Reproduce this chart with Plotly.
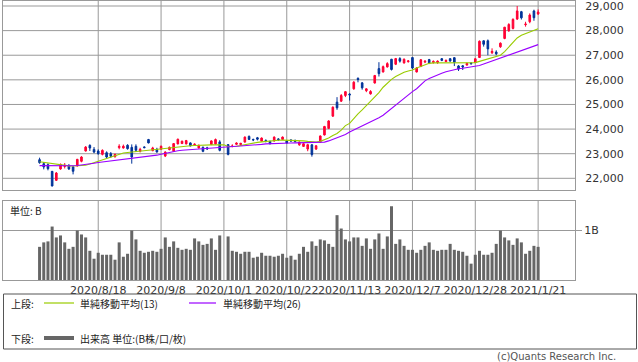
import plotly.graph_objects as go

# ---------------- data ----------------
dates = ["2020/7/28","2020/7/29","2020/7/30","2020/7/31","2020/8/3","2020/8/4","2020/8/5","2020/8/6","2020/8/7","2020/8/11",
         "2020/8/12","2020/8/13","2020/8/14","2020/8/17","2020/8/18","2020/8/19","2020/8/20","2020/8/21","2020/8/24","2020/8/25",
         "2020/8/26","2020/8/27","2020/8/28","2020/8/31","2020/9/1","2020/9/2","2020/9/3","2020/9/4","2020/9/7","2020/9/8",
         "2020/9/9","2020/9/10","2020/9/11","2020/9/14","2020/9/15","2020/9/16","2020/9/17","2020/9/18","2020/9/23","2020/9/24",
         "2020/9/25","2020/9/28","2020/9/29","2020/9/30","2020/10/1","2020/10/2","2020/10/5","2020/10/6","2020/10/7","2020/10/8",
         "2020/10/9","2020/10/12","2020/10/13","2020/10/14","2020/10/15","2020/10/16","2020/10/19","2020/10/20","2020/10/21","2020/10/22",
         "2020/10/23","2020/10/26","2020/10/27","2020/10/28","2020/10/29","2020/10/30","2020/11/2","2020/11/4","2020/11/5","2020/11/6",
         "2020/11/9","2020/11/10","2020/11/11","2020/11/12","2020/11/13","2020/11/16","2020/11/17","2020/11/18","2020/11/19","2020/11/20",
         "2020/11/24","2020/11/25","2020/11/26","2020/11/27","2020/11/30","2020/12/1","2020/12/2","2020/12/3","2020/12/4","2020/12/7",
         "2020/12/8","2020/12/9","2020/12/10","2020/12/11","2020/12/14","2020/12/15","2020/12/16","2020/12/17","2020/12/18","2020/12/21",
         "2020/12/22","2020/12/23","2020/12/24","2020/12/25","2020/12/28","2020/12/29","2020/12/30","2021/1/4","2021/1/5","2021/1/6",
         "2021/1/7","2021/1/8","2021/1/12","2021/1/13","2021/1/14","2021/1/15","2021/1/18","2021/1/19","2021/1/20","2021/1/21"]

opens = [22757,22594,22554,22283,21918,22378,22480,22514,22460,22500,
         22690,23108,23338,23175,23108,22973,23040,23000,22878,23247,
         23233,23342,23257,23300,23096,23274,23575,23123,23178,23178,
         22904,23164,23096,23397,23411,23397,23438,23360,23233,23260,
         23240,23370,23397,23480,None,23370,23290,23380,23370,23472,
         23702,23580,23648,23513,23540,23500,23513,23600,23580,23513,
         23560,23540,23360,23295,23189,23362,23189,23468,23760,24027,
         24525,25094,25134,25364,25420,25635,26060,25878,25560,25430,
         25871,26456,26320,26524,26837,26633,26864,26687,26740,26905,
         26320,26540,26720,26823,26700,26700,26860,26740,26860,26900,
         26565,26570,26600,26680,26702,26906,27586,27586,27100,27130,
         27341,27681,27994,28089,28470,28769,28240,28361,28796,28674]

highs = [22838,22662,22608,22297,22256,22600,22620,22580,22500,22790,
         22900,23310,23380,23270,23175,23175,23095,23068,23000,23384,
         23370,23384,23378,23380,23240,23300,23600,23280,23240,23330,
         23096,23290,23430,23610,23530,23560,23460,23420,23370,23290,
         23280,23540,23616,23548,None,23384,23380,23460,23440,23700,
         23740,23610,23680,23660,23580,23530,23700,23630,23700,23540,
         23580,23570,23495,23430,23401,23380,23340,23740,24130,24360,
         24920,25297,25423,25540,25460,25946,26100,25900,25660,25580,
         26200,26717,26582,26717,26850,26890,26920,26870,26800,26910,
         26520,26840,26800,26850,26790,26790,26880,26830,26880,26920,
         26600,26600,26700,26720,26880,27600,27600,27640,27280,27200,
         27520,28150,28300,28500,29000,28800,28360,28700,28850,28860]

lows = [22594,22364,22324,21674,21891,22350,22400,22340,22160,22480,
        22650,23090,23110,23020,22960,22932,22824,22838,22838,23178,
        23205,23164,22595,23070,23050,23220,23420,23100,23050,23150,
        22863,23140,23080,23380,23400,23380,23300,23330,23210,23060,
        23150,23350,23370,23096,None,22932,23260,23360,23320,23450,
        23560,23510,23540,23500,23460,23380,23500,23520,23560,23420,
        23490,23460,23320,23280,23100,22880,23150,23440,23740,24000,
        24500,24782,25100,25300,25160,25600,25900,25600,25500,25400,
        25850,26135,26300,26500,26380,26600,26700,26660,26700,26440,
        26300,26520,26680,26640,26660,26650,26760,26720,26740,26560,
        26360,26400,26580,26620,26680,26900,27350,27000,27050,27000,
        27300,27650,27950,28050,28430,28450,28160,28300,28400,28640]

closes = [22635,22459,22391,21688,22215,22567,22530,22380,22285,22770,
          22865,23270,23230,23068,23000,23135,22865,22892,22973,23301,
          23301,23205,22865,23140,23178,23247,23438,23233,23068,23301,
          23068,23260,23411,23589,23507,23534,23315,23384,23342,23096,
          23200,23520,23575,23137,None,22973,23312,23433,23422,23675,
          23580,23560,23590,23635,23500,23405,23675,23567,23675,23432,
          23516,23494,23472,23405,23365,22963,23322,23720,24106,24330,
          24890,24863,25364,25520,25390,25906,26014,25675,25634,25527,
          26176,26252,26537,26660,26420,26864,26760,26837,26769,26480,
          26483,26817,26756,26687,26750,26760,26790,26790,26763,26714,
          26436,26524,26668,26656,26854,27568,27444,27258,27158,27055,
          27490,28139,28250,28456,28800,28519,28265,28633,28524,28756]

# volume in billions of shares
volume_b = [0.67,0.76,0.78,1.08,0.86,0.90,0.76,0.63,0.67,1.00,
            0.92,0.86,0.59,0.43,0.55,0.51,0.51,0.51,0.41,0.76,
            0.47,0.53,1.00,0.82,0.59,0.55,0.57,0.59,0.57,0.63,
            0.86,0.67,0.78,0.65,0.61,0.63,0.61,0.84,0.78,0.71,
            0.73,0.84,0.61,0.90,None,0.88,0.59,0.57,0.53,0.57,
            0.57,0.45,0.47,0.55,0.49,0.49,0.47,0.49,0.53,0.45,
            0.49,0.41,0.53,0.67,0.57,0.78,0.69,0.82,0.80,0.73,
            0.67,1.31,1.04,0.82,0.78,0.86,0.86,0.69,0.84,0.63,
            0.82,0.94,0.63,0.88,1.49,0.73,0.82,0.69,0.61,0.61,
            0.55,0.61,0.69,0.76,0.61,0.59,0.61,0.61,0.73,0.61,
            0.59,0.57,0.49,0.33,0.51,0.59,0.51,0.51,0.55,0.73,
            1.00,0.86,0.80,0.71,0.84,0.76,0.53,0.59,0.69,0.67]

ma13 = [22676,22650,22620,22590,22560,22540,22520,22505,22500,22500,
        22505,22530,22580,22640,22700,22740,22800,22880,22940,22990,
        23030,23050,23070,23090,23105,23110,23130,23150,23160,23180,
        23200,23225,23250,23280,23300,23310,23320,23330,23330,23340,
        23350,23360,23365,23365,23360,23290,23290,23300,23330,23370,
        23400,23420,23460,23480,23500,23520,23540,23545,23550,23550,
        23545,23545,23540,23520,23500,23470,23470,23500,23560,23640,
        23740,23820,23960,24140,24230,24440,24620,24780,24950,25100,
        25280,25480,25700,25870,26020,26135,26230,26310,26360,26400,
        26480,26550,26620,26670,26690,26690,26690,26690,26690,26690,
        26690,26680,26670,26680,26700,26750,26800,26850,26900,26960,
        27000,27150,27330,27540,27700,27810,27880,27960,28020,28080]

ma26 = [22514,22510,22505,22500,22500,22500,22500,22505,22510,22520,
        22535,22555,22580,22610,22640,22660,22680,22700,22720,22740,
        22760,22780,22800,22820,22840,22860,22880,22905,22940,22980,
        23020,23060,23090,23120,23140,23155,23170,23185,23200,23210,
        23220,23235,23250,23265,23280,23290,23300,23305,23310,23320,
        23325,23340,23360,23380,23400,23410,23420,23425,23430,23432,
        23435,23440,23445,23450,23450,23445,23440,23450,23470,23520,
        23580,23640,23700,23780,23880,23960,24050,24150,24230,24300,
        24380,24460,24560,24700,24840,24980,25120,25260,25400,25520,
        25640,25810,25960,26060,26140,26210,26270,26330,26380,26420,
        26450,26470,26490,26510,26540,26580,26640,26700,26780,26840,
        26900,26960,27030,27080,27130,27190,27250,27310,27370,27430]

tick_labels = ["2020/8/18","2020/9/8","2020/10/1","2020/10/22","2020/11/13","2020/12/7","2020/12/28","2021/1/21"]
price_ticks = [22000, 23000, 24000, 25000, 26000, 27000, 28000, 29000]
volume_ticks = [1]
volume_tick_labels = ["1B"]

# ---------------- figure ----------------
W, H = 638, 362
def fx(p): return p / W
def fy(p): return 1 - p / H

idx = list(range(len(dates)))
tickvals = [dates.index(t) for t in tick_labels]

RED = "#ff0033"
BLUE = "#003399"
GREEN = "#99cc00"
PURPLE = "#9900ff"
GRID = "#999999"
TXT = "#333333"
TICKFONT = dict(family="DejaVu Sans", size=11, color=TXT)
JPFONT = dict(family="Noto Sans CJK JP", size=10, color="#222222")

fig = go.Figure()
fig.add_trace(go.Scatter(x=idx, y=ma13, mode="lines", line=dict(color=GREEN, width=1.1),
                         xaxis="x", yaxis="y", showlegend=False, hoverinfo="skip"))
fig.add_trace(go.Scatter(x=idx, y=ma26, mode="lines", line=dict(color=PURPLE, width=1.1),
                         xaxis="x", yaxis="y", showlegend=False, hoverinfo="skip"))
fig.add_trace(go.Candlestick(x=idx, open=opens, high=highs, low=lows, close=closes,
                             increasing=dict(line=dict(color=RED, width=1), fillcolor=RED),
                             decreasing=dict(line=dict(color=BLUE, width=1), fillcolor=BLUE),
                             whiskerwidth=0, xaxis="x", yaxis="y", showlegend=False))
fig.add_trace(go.Bar(x=idx, y=volume_b, marker=dict(color="#666666", line=dict(width=0)),
                     width=0.72, xaxis="x2", yaxis="y2", showlegend=False))

xr = [-8.73, 127.8]
common_x = dict(domain=[fx(3), fx(575)], range=xr, tickmode="array", tickvals=tickvals, showgrid=False,
                showline=True, linecolor=GRID, linewidth=1,
                mirror=True, zeroline=False, ticks="", fixedrange=True)

fig.update_layout(
    width=W, height=H, margin=dict(l=0, r=0, t=0, b=0, pad=0),
    paper_bgcolor="white", plot_bgcolor="white",
    boxgap=0.45,
    xaxis=dict(**common_x, anchor="y", showticklabels=False, rangeslider=dict(visible=False)),
    yaxis=dict(domain=[fy(190), fy(1)], range=[21525, 29203], side="right", anchor="x",
               tickmode="array", tickvals=price_ticks, tickformat=",d", showgrid=False,
               showline=True, linecolor=GRID, mirror=True, zeroline=False, ticks="",
               ticklabelstandoff=7, ticklabeloverflow="allow", tickfont=TICKFONT, fixedrange=True),
    xaxis2=dict(**common_x, anchor="y2", ticktext=tick_labels, tickangle=0, tickfont=TICKFONT,
                ticklabeloverflow="allow"),
    yaxis2=dict(domain=[fy(280), fy(201)], range=[0, 1.596], side="right", anchor="x2",
                tickmode="array", tickvals=volume_ticks, ticktext=volume_tick_labels, showgrid=False,
                showline=True, linecolor=GRID, mirror=True, zeroline=False,
                ticks="outside", ticklen=6, tickcolor=GRID, tickfont=TICKFONT, fixedrange=True),
)

# grid lines (drawn as shapes beneath the traces, at the axis tick positions)
shapes = []
for tv in tickvals:
    shapes.append(dict(type="line", xref="x", yref="y domain", x0=tv, x1=tv, y0=0, y1=1,
                       line=dict(color=GRID, width=1), layer="below"))
    shapes.append(dict(type="line", xref="x2", yref="y2 domain", x0=tv, x1=tv, y0=0, y1=1,
                       line=dict(color=GRID, width=1), layer="below"))
for pv in price_ticks:
    shapes.append(dict(type="line", xref="x domain", yref="y", x0=0, x1=1, y0=pv, y1=pv,
                       line=dict(color=GRID, width=1), layer="below"))
for vv in volume_ticks:
    shapes.append(dict(type="line", xref="x2 domain", yref="y2", x0=0, x1=1, y0=vv, y1=vv,
                       line=dict(color=GRID, width=1), layer="below"))

# legend box
shapes += [
    dict(type="rect", xref="paper", yref="paper", x0=fx(3.5), x1=fx(636.5), y0=fy(349), y1=fy(294),
         line=dict(color="#555555", width=1)),
    dict(type="line", xref="paper", yref="paper", x0=fx(44), x1=fx(74), y0=fy(303), y1=fy(303),
         line=dict(color=GREEN, width=1.2)),
    dict(type="line", xref="paper", yref="paper", x0=fx(189), x1=fx(216), y0=fy(303), y1=fy(303),
         line=dict(color=PURPLE, width=1.2)),
    dict(type="line", xref="paper", yref="paper", x0=fx(44), x1=fx(74), y0=fy(338), y1=fy(338),
         line=dict(color="#666666", width=4)),
]
fig.update_layout(shapes=shapes)

def ann(text, x, y, font, xanchor="left"):
    fig.add_annotation(text=text, xref="paper", yref="paper", x=fx(x), y=fy(y),
                       xanchor=xanchor, yanchor="middle", showarrow=False, font=font)

ann("単位: B", 8, 210, JPFONT)
ann("上段:", 9, 303.5, JPFONT)
ann("単純移動平均(13)", 78, 303.5, JPFONT)
ann("単純移動平均(26)", 221, 303.5, JPFONT)
ann("下段:", 9, 338, JPFONT)
ann("出来高 単位:(B株/口/枚)", 78, 338, JPFONT)
ann("(c)Quants Research Inc.", 618, 356, dict(family="DejaVu Sans", size=10, color="#555555"), xanchor="right")

fig.write_html("out.html", config={"displayModeBar": False, "staticPlot": True},
               post_script="document.body.style.margin='0';document.body.style.padding='0';"
                           "document.body.style.overflow='hidden';"
                           "document.documentElement.style.overflow='hidden';")
